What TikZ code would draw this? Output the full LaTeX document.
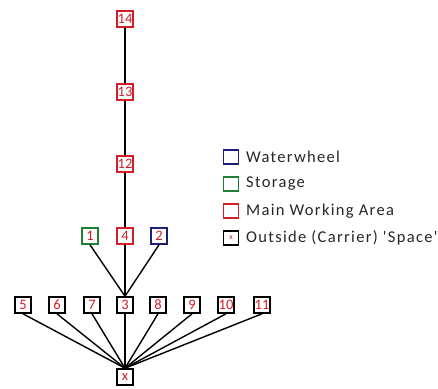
\documentclass[tikz,border=0pt]{standalone}
\usepackage{fontspec}
\setmainfont{Carlito}
\newfontfamily\legfont[LetterSpace=8]{Carlito}
\definecolor{myred}{RGB}{210,30,40}
\definecolor{mygreen}{RGB}{30,130,50}
\definecolor{myblue}{RGB}{30,30,120}
\begin{document}
\begin{tikzpicture}[x=1pt,y=-1pt,
  nbox/.style={draw=black,line width=1.6pt,fill=white,minimum width=16pt,minimum height=16pt,inner sep=0pt,text=myred,font=\fontsize{14.5}{14.5}\selectfont},
  redbox/.style={nbox,draw=myred},
  greenbox/.style={nbox,draw=mygreen},
  bluebox/.style={nbox,draw=myblue},
  lbox/.style={draw,line width=1.2pt,minimum width=15pt,minimum height=14pt,inner sep=0pt},
  ltext/.style={anchor=west,font=\legfont\fontsize{16.5}{17}\selectfont,text=black!85,inner sep=0pt},
  edge/.style={line width=1.4pt}]
\useasboundingbox (0,0) rectangle (438,388);
% chain
\node[redbox] (n14) at (125,19) {14};
\node[redbox] (n13) at (125,92) {13};
\node[redbox] (n12) at (125,164) {12};
\node[greenbox] (n1) at (90,236) {1};
\node[redbox] (n4) at (125,236) {4};
\node[bluebox] (n2) at (159,236) {2};
\node[nbox] (n5) at (23,305) {5};
\node[nbox] (n6) at (57,305) {6};
\node[nbox] (n7) at (92,305) {7};
\node[nbox] (n3) at (125,305) {3};
\node[nbox] (n8) at (158,305) {8};
\node[nbox] (n9) at (192,305) {9};
\node[nbox] (n10) at (226,305) {10};
\node[nbox] (n11) at (262,305) {11};
\node[nbox] (nx) at (125,377) {x};
\draw[edge] (n14) -- (n13);
\draw[edge] (n13) -- (n12);
\draw[edge] (n12) -- (n4);
\draw[edge] (n4) -- (n3);
\draw[edge] (n1.south) -- (n3.north);
\draw[edge] (n2.south) -- (n3.north);
\draw[edge] (n3) -- (nx);
\foreach \n in {n5,n6,n7,n8,n9,n10,n11}{
  \draw[edge] (\n.south) -- (nx.north);
}
% legend
\node[lbox,draw=myblue] (l1) at (231,157) {};
\node[ltext] (t1) at (246,157) {Waterwheel};
\node[lbox,draw=mygreen] (l2) at (231,184) {};
\node[ltext] (t2) at (246,184) {Storage};
\node[lbox,draw=myred] (l3) at (231,211) {};
\node[ltext] (t3) at (246,211) {Main Working Area};
\node[lbox,draw=black,text=myred,font=\fontsize{8}{8}\selectfont] (l4) at (231,238) {x};
\node[ltext] (t4) at (246,238) {Outside (Carrier) 'Space'};
\end{tikzpicture}
\end{document}
